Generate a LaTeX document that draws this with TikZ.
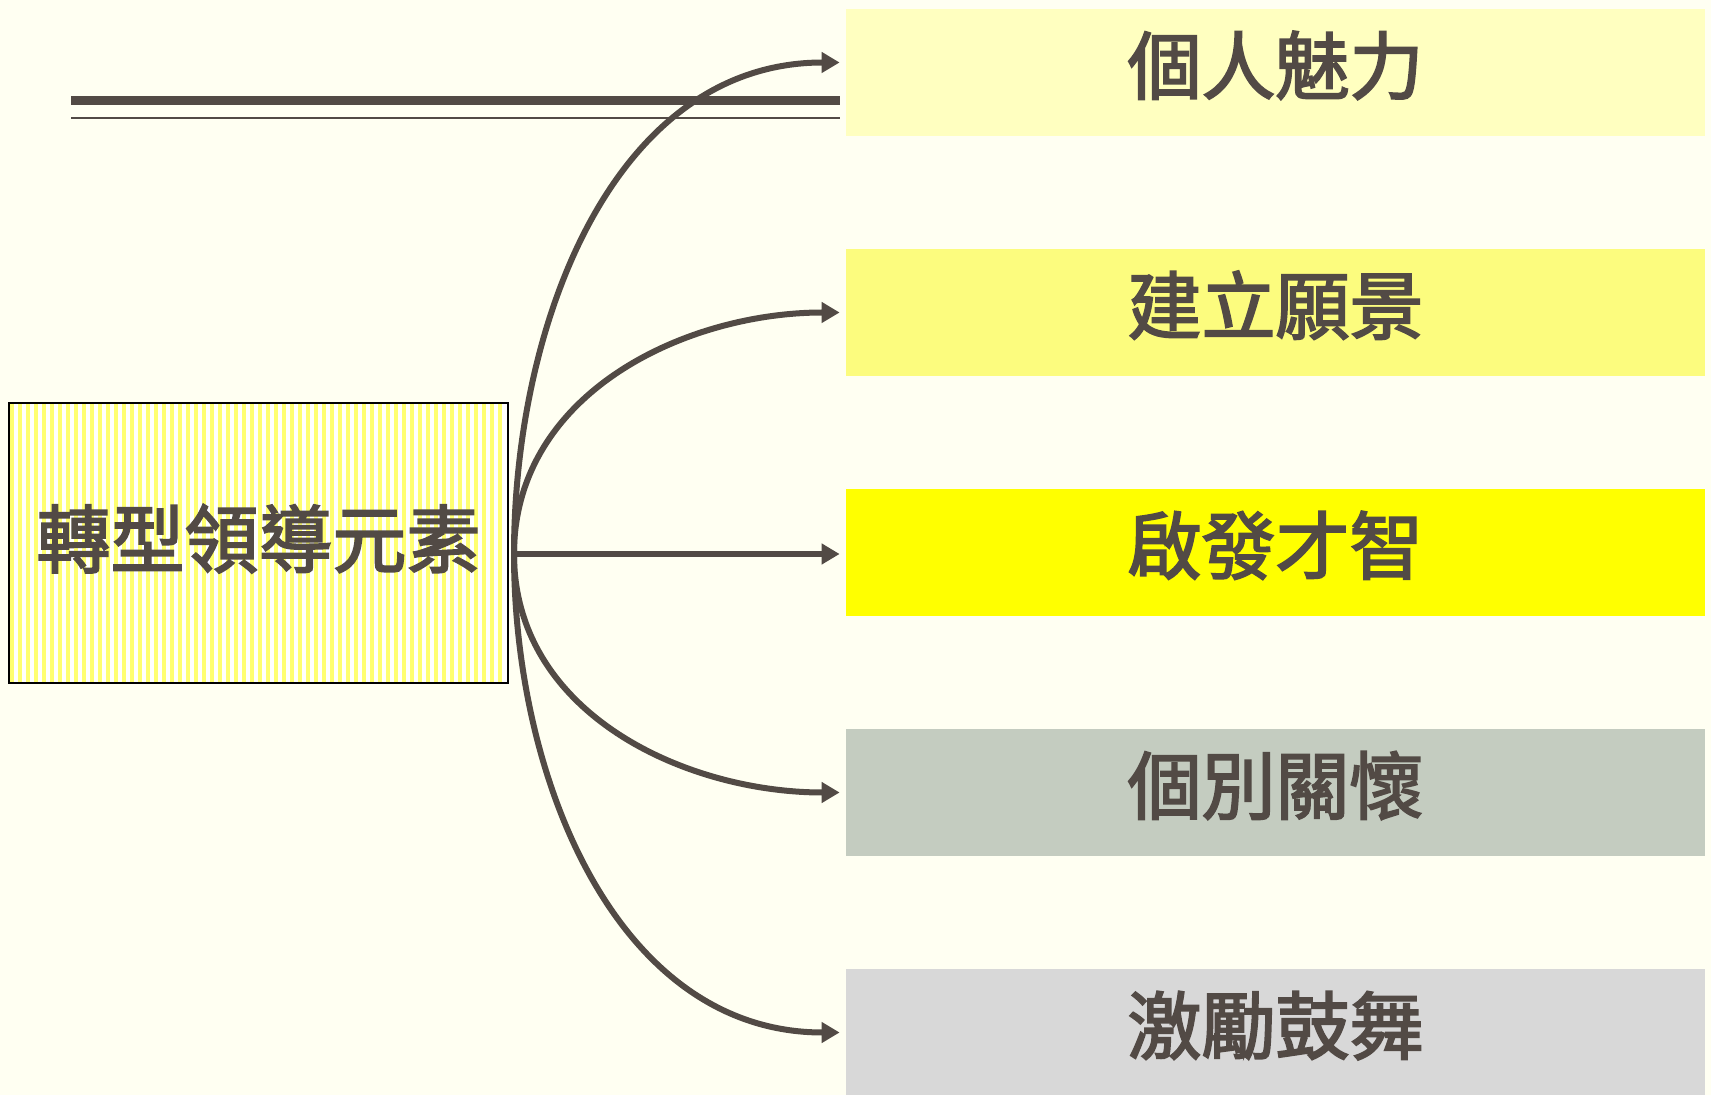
\documentclass[tikz,border=0pt]{standalone}
\usepackage{fontspec}
\newfontfamily\cjk{Noto Sans CJK TC}[UprightFeatures={FakeBold=2.5}]
\usetikzlibrary{arrows,arrows.meta}
\definecolor{bg}{HTML}{FFFFF2}
\definecolor{ink}{HTML}{524A45}
\definecolor{paleyel}{HTML}{FFFFC0}
\definecolor{midyel}{HTML}{FCFC7E}
\definecolor{fullyel}{HTML}{FFFF00}
\definecolor{sage}{HTML}{C4CCC0}
\definecolor{lightgrey}{HTML}{D8D8D8}
\definecolor{stripe}{HTML}{FFFF70}
\tikzstyle{target} = [minimum width=429.5pt, minimum height=63.5pt, inner sep=0pt, text=ink, text height=32pt, text depth=11pt, font=\cjk\fontsize{37}{44}\selectfont]
\tikzstyle{source} = [draw=black, line width=1pt, minimum width=249.5pt, minimum height=140pt, inner sep=0pt, text=ink, text height=32pt, text depth=8pt, font=\cjk\fontsize{37}{44}\selectfont]
\tikzset{
  line/.style ={draw=ink, line width=3pt, -{Triangle[length=9pt,width=10pt]}, shorten >=3pt}
}

\begin{document}
\begin{tikzpicture}[x=0.5pt,y=-0.5pt,node distance=120pt]
  \fill[bg] (0,0) rectangle (1711,1095);
  \useasboundingbox (0,0) rectangle (1711,1095);

  % title rules
  \draw[ink, line width=4.5pt] (71,101) -- (840,101);
  \draw[ink, line width=1.4pt] (71,118) -- (840,118);

  % striped source box
  \fill[white] (9,403) rectangle (508,683);
  \foreach \i in {0,...,61}
    \fill[stripe] (10+8*\i,403) rectangle ++(4,280);
  \node[source] (transform) at (258.5,543) {轉型領導元素};

  \node[target, fill=paleyel] (charisma) at (1275.5,72.5) {個人魅力};
  \node[target, fill=midyel, below of=charisma] (vision) {建立願景};
  \node[target, fill=fullyel, below of=vision] (stimulation) {啟發才智};
  \node[target, fill=sage, below of=stimulation] (consideration) {個別關懷};
  \node[target, fill=lightgrey, below of=consideration] (motivation) {激勵鼓舞};

  \coordinate (hub) at ([shift={(5,11)}]transform.east);

  \begin{scope}[every path/.style=line]
    \path (hub) to[out=90,in=180] ([yshift=5pt]charisma.west);
    \path (hub) to[out=90,in=180] (vision.west);
    \path (hub) -- (hub -| stimulation.west);
    \path (hub) to[out=-90,in=180] (consideration.west);
    \path (hub) to[out=-90,in=180] (motivation.west);
  \end{scope}

\end{tikzpicture}
\end{document}
